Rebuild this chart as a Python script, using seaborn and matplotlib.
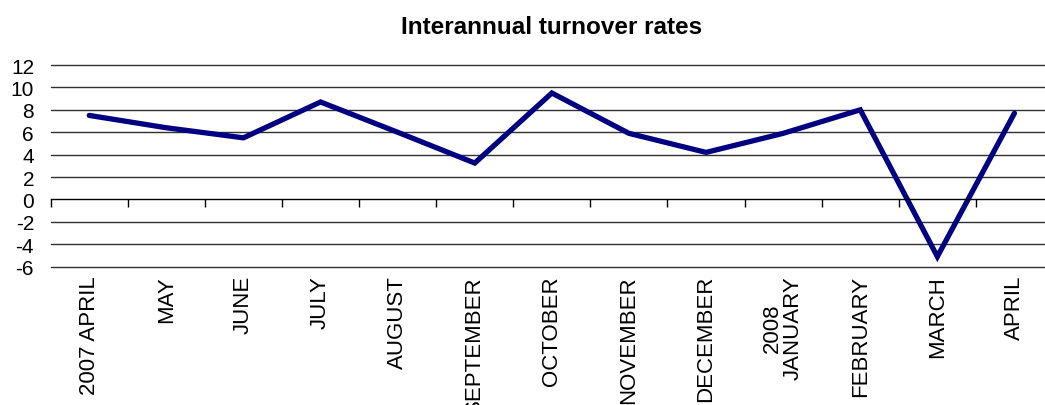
import matplotlib
matplotlib.use('Agg')
import matplotlib.pyplot as plt
import numpy as np
import seaborn as sns

# data
months = ['2007 APRIL', 'MAY', 'JUNE', 'JULY', 'AUGUST', 'SEPTEMBER', 'OCTOBER',
          'NOVEMBER', 'DECEMBER', '2008\nJANUARY', 'FEBRUARY', 'MARCH', 'APRIL']
rates = [7.5, 6.4, 5.5, 8.7, 6.0, 3.25, 9.5, 5.9, 4.2, 5.9, 8.0, -5.1, 7.7]
yticks = [-6, -4, -2, 0, 2, 4, 6, 8, 10, 12]

sns.set_style('white')
plt.rcParams['font.family'] = ['Liberation Sans', 'DejaVu Sans']
plt.rcParams['axes.unicode_minus'] = False
plt.rcParams['text.color'] = 'black'
plt.rcParams['xtick.color'] = 'black'
plt.rcParams['ytick.color'] = 'black'

fig = plt.figure(figsize=(10.45, 4.06), dpi=100)
ax = fig.add_axes([50.7 / 1045, 1 - 267.7 / 406, (1053 - 50.7) / 1045, (267.7 - 66) / 406])

x = np.arange(len(months))
sns.lineplot(x=x, y=rates, ax=ax, color='#000080', linewidth=3.8,
             solid_joinstyle='miter', solid_capstyle='round')

ax.set_xlim(-0.5, len(months) - 0.5)
ax.set_ylim(-6, 12)
ax.set_yticks(yticks)
ax.tick_params(axis='y', length=0, pad=12, labelsize=15, labelcolor='black')
for v in yticks:
    if v != 0:
        ax.axhline(v, color='#303030', linewidth=1, zorder=0, clip_on=False)

for s in ['top', 'right', 'left']:
    ax.spines[s].set_visible(False)

# category axis crosses at zero, ticks between categories
ax.spines['bottom'].set_position(('data', 0))
ax.spines['bottom'].set_color('black')
ax.spines['bottom'].set_linewidth(1)
ax.set_xticks(np.arange(-0.5, len(months), 1))
ax.set_xticklabels([])
ax.tick_params(axis='x', bottom=True, direction='out', length=6, width=1, color='black')

# month labels below the plot
sec = ax.secondary_xaxis('bottom')
sec.set_xticks(x)
sec.set_xticklabels(months, rotation=90, fontsize=16, linespacing=1.0, color='black')
sec.tick_params(length=0, pad=6)
sec.spines['bottom'].set_visible(False)

ax.set_title('Interannual turnover rates', fontsize=17.5, fontweight='bold',
             color='black', pad=23)

fig.savefig('out.png', dpi=100)
